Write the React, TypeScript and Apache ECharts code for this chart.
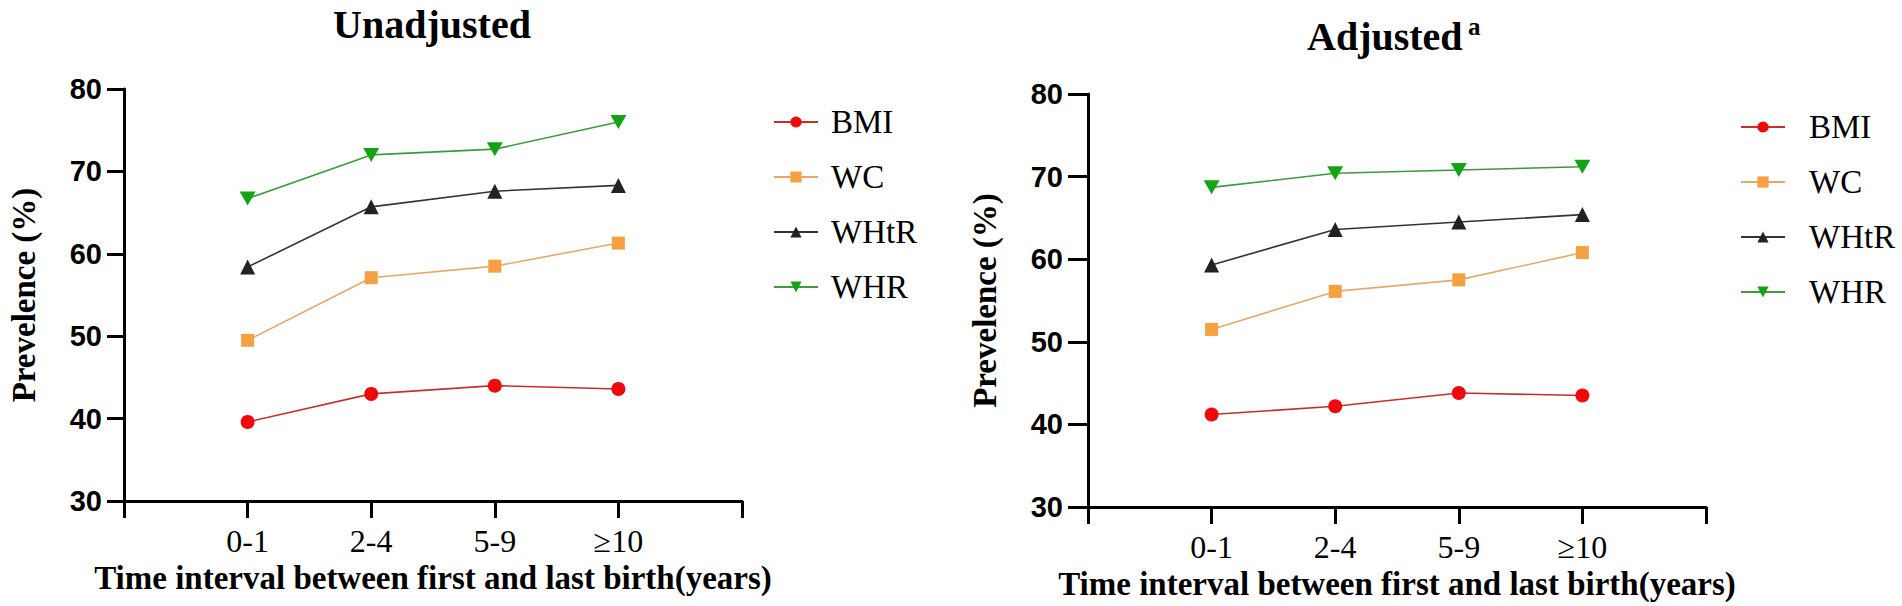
import React, { useEffect, useRef } from "react";
import * as echarts from "echarts";

const categories = ["0-1", "2-4", "5-9", "≥10"];
const seriesNames = ["BMI", "WC", "WHtR", "WHR"];

const unadjBMI = [39.6, 43.0, 44.0, 43.6];
const unadjWC = [49.5, 57.1, 58.5, 61.3];
const unadjWHtR = [58.4, 65.7, 67.6, 68.3];
const unadjWHR = [66.7, 72.0, 72.7, 76.0];

const adjBMI = [41.2, 42.2, 43.8, 43.5];
const adjWC = [51.5, 56.1, 57.5, 60.8];
const adjWHtR = [59.3, 63.6, 64.5, 65.4];
const adjWHR = [68.7, 70.4, 70.8, 71.2];

const yMin = 30;
const yMax = 80;
const yStep = 10;

const xTitle = "Time interval between first and last birth(years)";
const yTitle = "Prevelence (%)";

const SERIF = '"Liberation Serif", "Times New Roman", serif';
const SANS = '"Liberation Sans", Arial, sans-serif';

const markerColors = ["#ee0a0a", "#f5a142", "#222222", "#13a313"];
const lineColors = ["#c43030", "#e7a86c", "#333333", "#3d9a3d"];
const symbols = [
  "circle",
  "rect",
  "triangle",
  "path://M0,0 L10,0 L5,9 Z",
];
const symbolSizes: any[] = [14, 13, 15, [16, 14]];

function App() {
  const ref = useRef<HTMLDivElement>(null);

  useEffect(() => {
    if (!ref.current) return;
    const chart = echarts.init(ref.current, undefined, { renderer: "svg" });
    const axisCats = ["", ...categories, ""];
    const pad = (arr: number[]) => [null, ...arr, null];

    const groups = [
      [unadjBMI, unadjWC, unadjWHtR, unadjWHR],
      [adjBMI, adjWC, adjWHtR, adjWHR],
    ];

    const series: any[] = [];
    groups.forEach((grp, gi) => {
      grp.forEach((vals, si) => {
        series.push({
          type: "line",
          name: seriesNames[si],
          xAxisIndex: gi,
          yAxisIndex: gi,
          data: pad(vals),
          symbol: symbols[si],
          symbolSize: symbolSizes[si],
          showAllSymbol: true,
          lineStyle: { color: lineColors[si], width: 1.6 },
          itemStyle: { color: markerColors[si], borderWidth: 0 },
          z: 3 + si,
        });
      });
    });

    const makeX = (gi: number) => ({
      type: "category",
      gridIndex: gi,
      data: axisCats,
      boundaryGap: false,
      axisLine: { show: true, lineStyle: { color: "#000", width: 3 } },
      axisTick: {
        show: true,
        interval: 0,
        length: 17,
        lineStyle: { color: "#000", width: 3 },
      },
      axisLabel: {
        interval: 0,
        color: "#000",
        fontFamily: SERIF,
        fontSize: 32,
        margin: 24,
      },
      splitLine: { show: false },
      name: xTitle,
      nameLocation: "middle",
      nameGap: 58,
      nameTextStyle: {
        color: "#000",
        fontFamily: SERIF,
        fontWeight: "bold",
        fontSize: 33,
      },
    });

    const makeY = (gi: number, tickLen: number, gap: number) => ({
      type: "value",
      gridIndex: gi,
      min: yMin,
      max: yMax,
      interval: yStep,
      axisLine: { show: true, lineStyle: { color: "#000", width: 3 } },
      axisTick: { show: true, length: tickLen, lineStyle: { color: "#000", width: 3 } },
      axisLabel: {
        color: "#000",
        fontFamily: SANS,
        fontWeight: "bold",
        fontSize: 29,
        margin: tickLen + 5,
      },
      splitLine: { show: false },
      name: yTitle,
      nameLocation: "middle",
      nameGap: gap,
      nameRotate: 90,
      nameTextStyle: {
        color: "#000",
        fontFamily: SERIF,
        fontWeight: "bold",
        fontSize: 33,
      },
    });

    const legendBase = (padLeft: number) => ({
      orient: "vertical",
      itemWidth: 44,
      itemHeight: 14,
      itemGap: 21,
      data: seriesNames,
      textStyle: {
        color: "#000",
        fontFamily: SERIF,
        fontSize: 33,
        lineHeight: 34,
        padding: [0, 0, 0, padLeft],
      },
    });

    chart.setOption({
      animation: false,
      backgroundColor: "#ffffff",
      grid: [
        { left: 124, top: 89, width: 618, height: 412 },
        { left: 1088, top: 94, width: 618, height: 413 },
      ],
      xAxis: [makeX(0), makeX(1)],
      yAxis: [makeY(0, 17, 84), makeY(1, 20, 87)],
      legend: [
        { ...legendBase(8), left: 768, top: 100 },
        { ...legendBase(19), left: 1735, top: 105 },
      ],
      graphic: [
        {
          type: "text",
          x: 432,
          y: 24.5,
          style: {
            text: "Unadjusted",
            fontFamily: SERIF,
            fontWeight: "bold",
            fontSize: 40,
            fill: "#000",
            align: "center",
            verticalAlign: "middle",
          },
        },
        {
          type: "text",
          x: 1307,
          y: 36.5,
          style: {
            text: "Adjusted",
            fontFamily: SERIF,
            fontWeight: "bold",
            fontSize: 40,
            fill: "#000",
            align: "left",
            verticalAlign: "middle",
          },
        },
        {
          type: "text",
          x: 1468,
          y: 26,
          style: {
            text: "a",
            fontFamily: SERIF,
            fontWeight: "bold",
            fontSize: 25,
            fill: "#000",
            align: "left",
            verticalAlign: "middle",
          },
        },
      ],
      series,
    });

    return () => {
      chart.dispose();
    };
  }, []);

  return (
    <div
      ref={ref}
      style={{
        position: "fixed",
        left: 0,
        top: 0,
        width: 1902,
        height: 606,
        background: "#fff",
      }}
    />
  );
}

export default App;
